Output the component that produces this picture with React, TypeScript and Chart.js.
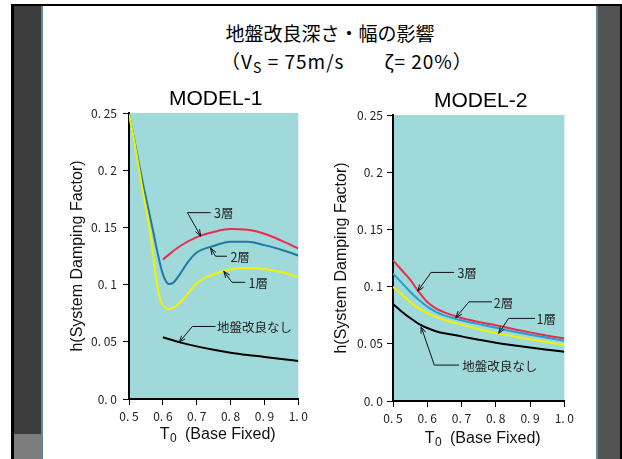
import React, { useEffect, useRef } from 'react';
import { Chart, registerables } from 'chart.js';

Chart.register(...registerables);

// ---------- axis ticks ----------
const TICK_X = [0.5, 0.6, 0.7, 0.8, 0.9, 1.0];
const TICK_X_LABELS = ['0. 5', '0. 6', '0. 7', '0. 8', '0. 9', '1. 0'];
const TICK_Y = [0, 0.05, 0.1, 0.15, 0.2, 0.25];
const TICK_Y_LABELS = ['0. 0', '0. 05', '0. 1', '0. 15', '0. 2', '0. 25'];

// ---------- MODEL-1 ----------
const M1_BLUE_T = [0.5, 0.52, 0.54, 0.5625, 0.572, 0.585, 0.597, 0.607, 0.618, 0.63, 0.65, 0.675, 0.7, 0.75, 0.8, 0.85, 0.9, 0.95, 1.0];
const M1_BLUE_H = [0.249, 0.22, 0.19, 0.159, 0.1456, 0.127, 0.112, 0.104, 0.1005, 0.1015, 0.109, 0.12, 0.128, 0.1338, 0.1375, 0.1375, 0.1345, 0.1305, 0.1255];
const M1_YELLOW_T = [0.5, 0.52, 0.54, 0.5625, 0.581, 0.592, 0.605, 0.615, 0.625, 0.64, 0.66, 0.68, 0.7, 0.725, 0.75, 0.8, 0.85, 0.9, 0.95, 1.0];
const M1_YELLOW_H = [0.249, 0.218, 0.183, 0.1456, 0.104, 0.087, 0.0805, 0.0785, 0.079, 0.0815, 0.087, 0.0945, 0.101, 0.106, 0.109, 0.1135, 0.1145, 0.1135, 0.111, 0.1065];
const M1_RED_T = [0.6, 0.65, 0.7, 0.75, 0.8, 0.85, 0.9, 0.95, 1.0];
const M1_RED_H = [0.122, 0.1335, 0.1415, 0.146, 0.1485, 0.148, 0.1445, 0.1385, 0.1316];
const M1_BLACK_T = [0.6, 0.65, 0.7, 0.75, 0.8, 0.85, 0.9, 0.95, 1.0];
const M1_BLACK_H = [0.054, 0.0495, 0.046, 0.043, 0.0405, 0.0385, 0.0368, 0.035, 0.0333];

// ---------- MODEL-2 ----------
const M2_T = [0.5, 0.525, 0.55, 0.575, 0.6, 0.625, 0.65, 0.7, 0.75, 0.8, 0.85, 0.9, 0.95, 1.0];
const M2_RED_H = [0.123, 0.1145, 0.106, 0.0955, 0.0865, 0.081, 0.0775, 0.0725, 0.069, 0.0663, 0.063, 0.06, 0.057, 0.0548];
const M2_BLUE_H = [0.1115, 0.1035, 0.0955, 0.0885, 0.0825, 0.078, 0.0748, 0.0705, 0.0672, 0.064, 0.0608, 0.058, 0.0553, 0.0527];
const M2_YELLOW_H = [0.0998, 0.093, 0.0865, 0.081, 0.0768, 0.0735, 0.0708, 0.0668, 0.0628, 0.0595, 0.0567, 0.054, 0.0515, 0.049];
const M2_BLACK_H = [0.0847, 0.0782, 0.0725, 0.0675, 0.0638, 0.061, 0.0592, 0.0565, 0.0535, 0.051, 0.0488, 0.0468, 0.0449, 0.0431];

// ---------- annotation labels (data coordinates: tip, corner, end; text anchor) ----------
const NOTE_TEXTS = ['3層', '2層', '1層', '地盤改良なし'];
const M1_NOTE_PTS: [number, number][][] = [
  [[0.7117, 0.1424], [0.6725, 0.1629], [0.741, 0.1629]],
  [[0.741, 0.132], [0.7556, 0.1248], [0.7895, 0.1248]],
  [[0.7798, 0.1117], [0.804, 0.102], [0.8433, 0.102]],
  [[0.6482, 0.0495], [0.6871, 0.0634], [0.7556, 0.0634]],
];
const M1_NOTE_AT: [number, number][] = [[0.751, 0.1629], [0.7995, 0.1248], [0.853, 0.102], [0.7602, 0.0634]];
const M2_NOTE_PTS: [number, number][][] = [
  [[0.5723, 0.096], [0.611, 0.1124], [0.6783, 0.1124]],
  [[0.6832, 0.0728], [0.7217, 0.0867], [0.789, 0.0867]],
  [[0.8084, 0.0591], [0.8373, 0.0722], [0.9145, 0.0722]],
  [[0.5821, 0.0649], [0.6205, 0.0314], [0.6928, 0.0314]],
];
const M2_NOTE_AT: [number, number][] = [[0.6879, 0.1124], [0.794, 0.0867], [0.919, 0.0722], [0.7023, 0.0314]];

const CYAN = '#a0d9d9';
const SANS = '"Liberation Sans", Arial, sans-serif';
const JP = '"Noto Sans CJK JP", sans-serif';

const pts = (xs: number[], ys: number[]) => xs.map((x, i) => ({ x, y: ys[i] }));

const line = (data: any, color: string) => ({
  data,
  borderColor: color,
  borderWidth: 2,
  pointRadius: 0,
  fill: false,
  cubicInterpolationMode: 'monotone',
});

type PanelCfg = {
  left: number; top: number; w: number; h: number;
  title: string;
  padTop: number;
  yWidth: number; yTitlePad: number; yTickPad: number;
  xHeight: number; xTitleDy: number; xTickPad: number;
  datasets: any[];
  notePts: [number, number][][];
  noteAt: [number, number][];
};

function buildConfig(c: PanelCfg): any {
  const bgPlugin = {
    id: 'bg',
    beforeDraw(chart: any) {
      const { ctx, chartArea } = chart;
      ctx.save();
      ctx.fillStyle = CYAN;
      ctx.fillRect(chartArea.left, chartArea.top, chartArea.right - chartArea.left, chartArea.bottom - chartArea.top);
      ctx.restore();
    },
  };
  const textPlugin = {
    id: 'texts',
    afterDraw(chart: any) {
      const { ctx, chartArea } = chart;
      const cx = (chartArea.left + chartArea.right) / 2;
      ctx.save();
      ctx.textBaseline = 'middle';
      ctx.textAlign = 'center';
      ctx.fillStyle = '#000';
      ctx.font = '21px ' + SANS;
      ctx.fillText(c.title, cx + 2, chartArea.top - 14);
      // x-axis title with subscript
      const big = '16px ' + SANS;
      const small = '12px ' + SANS;
      ctx.font = big; const wT = ctx.measureText('T').width;
      const rest = '  (Base Fixed)'; const wR = ctx.measureText(rest).width;
      ctx.font = small; const w0 = ctx.measureText('0').width;
      const total = wT + w0 + wR;
      const x0 = cx + 4 - total / 2;
      const y0 = chartArea.bottom + c.xTitleDy;
      ctx.textAlign = 'left';
      ctx.fillStyle = '#111';
      ctx.font = big; ctx.fillText('T', x0, y0);
      ctx.font = small; ctx.fillText('0', x0 + wT + 0.5, y0 + 4);
      ctx.font = big; ctx.fillText(rest, x0 + wT + w0, y0);
      ctx.restore();
    },
  };
  const notePlugin = {
    id: 'notes',
    afterDatasetsDraw(chart: any) {
      const { ctx } = chart;
      const xs = chart.scales.x;
      const ys = chart.scales.y;
      ctx.save();
      ctx.strokeStyle = '#111';
      ctx.lineWidth = 1;
      ctx.fillStyle = '#222';
      ctx.font = '12.5px ' + JP;
      ctx.textBaseline = 'middle';
      ctx.textAlign = 'left';
      c.notePts.forEach((np, i) => {
        const p = np.map(([a, b]) => [xs.getPixelForValue(a), ys.getPixelForValue(b)]);
        ctx.beginPath();
        ctx.moveTo(p[0][0], p[0][1]);
        for (let k = 1; k < p.length; k++) ctx.lineTo(p[k][0], p[k][1]);
        ctx.stroke();
        const ang = Math.atan2(p[0][1] - p[1][1], p[0][0] - p[1][0]);
        const L = 7, w = 0.35;
        ctx.beginPath();
        ctx.moveTo(p[0][0] - L * Math.cos(ang - w), p[0][1] - L * Math.sin(ang - w));
        ctx.lineTo(p[0][0], p[0][1]);
        ctx.lineTo(p[0][0] - L * Math.cos(ang + w), p[0][1] - L * Math.sin(ang + w));
        ctx.stroke();
        ctx.fillText(NOTE_TEXTS[i], xs.getPixelForValue(c.noteAt[i][0]), ys.getPixelForValue(c.noteAt[i][1]) + 1);
      });
      ctx.restore();
    },
  };
  const grid = { drawOnChartArea: false, drawTicks: true, tickLength: 6, color: '#000', lineWidth: 1 };
  const border = { display: true, color: '#000', width: 2 };
  return {
    type: 'line',
    data: { datasets: c.datasets },
    plugins: [bgPlugin, notePlugin, textPlugin],
    options: {
      animation: false,
      responsive: false,
      maintainAspectRatio: false,
      layout: { padding: { left: 0, right: 12, top: c.padTop, bottom: 0 } },
      plugins: {
        legend: { display: false },
        tooltip: { enabled: false },
        title: { display: false },
      },
      scales: {
        x: {
          type: 'linear',
          min: 0.5,
          max: 1.0,
          afterBuildTicks: (s: any) => { s.ticks = TICK_X.map((v) => ({ value: v })); },
          afterFit: (s: any) => { s.height = c.xHeight; },
          ticks: {
            autoSkip: false,
            maxRotation: 0,
            padding: c.xTickPad,
            color: '#222',
            font: { family: JP, size: 12 },
            callback: (_v: any, i: number) => TICK_X_LABELS[i],
          },
          grid,
          border,
          title: { display: false },
        },
        y: {
          type: 'linear',
          min: 0,
          max: 0.25,
          afterBuildTicks: (s: any) => { s.ticks = TICK_Y.map((v) => ({ value: v })); },
          afterFit: (s: any) => { s.width = c.yWidth; },
          ticks: {
            padding: c.yTickPad,
            color: '#222',
            font: { family: JP, size: 12 },
            callback: (_v: any, i: number) => TICK_Y_LABELS[i],
          },
          grid,
          border,
          title: {
            display: true,
            text: 'h(System Damping Factor)',
            color: '#111',
            font: { family: SANS, size: 16, lineHeight: 1.2 },
            padding: { top: c.yTitlePad, bottom: 0 },
          },
        },
      },
    },
  };
}

function Panel({ cfg }: { cfg: PanelCfg }) {
  const ref = useRef<HTMLCanvasElement>(null);
  useEffect(() => {
    const chart = new Chart(ref.current as HTMLCanvasElement, buildConfig(cfg));
    return () => chart.destroy();
  }, []);
  return (
    <canvas
      ref={ref}
      width={cfg.w}
      height={cfg.h}
      style={{ position: 'absolute', left: cfg.left, top: cfg.top, width: cfg.w, height: cfg.h }}
    />
  );
}

const PANEL1: PanelCfg = {
  left: 60, top: 80, w: 252, h: 370,
  title: 'MODEL-1',
  padTop: 33,
  yWidth: 69, yTitlePad: 8.4, yTickPad: 6,
  xHeight: 51, xTitleDy: 36, xTickPad: 4,
  datasets: [
    line(pts(M1_BLACK_T, M1_BLACK_H), '#000000'),
    line(pts(M1_YELLOW_T, M1_YELLOW_H), '#f2f200'),
    line(pts(M1_BLUE_T, M1_BLUE_H), '#1f7aa6'),
    line(pts(M1_RED_T, M1_RED_H), '#ec2a4c'),
  ],
  notePts: M1_NOTE_PTS,
  noteAt: M1_NOTE_AT,
};

const PANEL2: PanelCfg = {
  left: 320, top: 82, w: 258, h: 370,
  title: 'MODEL-2',
  padTop: 33,
  yWidth: 73, yTitlePad: 12.4, yTickPad: 4,
  xHeight: 51, xTitleDy: 38, xTickPad: 4,
  datasets: [
    line(pts(M2_T, M2_BLACK_H), '#000000'),
    line(pts(M2_T, M2_YELLOW_H), '#f2f200'),
    line(pts(M2_T, M2_BLUE_H), '#22a0d0'),
    line(pts(M2_T, M2_RED_H), '#ec2a4c'),
  ],
  notePts: M2_NOTE_PTS,
  noteAt: M2_NOTE_AT,
};

export default function App() {
  const abs = (s: any) => ({ position: 'absolute', ...s });
  return (
    <div style={{ position: 'fixed', left: 0, top: 0, width: 622, height: 459, background: '#fff', overflow: 'hidden' }}>
      {/* slide frame */}
      <div style={abs({ left: 11, top: 4, width: 611, height: 2, background: '#000' })} />
      <div style={abs({ left: 11, top: 4, width: 3, height: 455, background: '#000' })} />
      <div style={abs({ left: 14, top: 6, width: 27, height: 428, background: '#3b3b3b' })} />
      <div style={abs({ left: 14, top: 434, width: 27, height: 25, background: '#7c7c7c' })} />
      <div style={abs({ left: 41, top: 6, width: 2, height: 453, background: '#5f8896' })} />
      <div style={abs({ left: 596, top: 6, width: 2, height: 453, background: '#5f8896' })} />
      <div style={abs({ left: 598, top: 6, width: 22, height: 453, background: '#535353' })} />
      <div style={abs({ left: 620, top: 4, width: 2, height: 455, background: '#000' })} />

      {/* main title */}
      <div style={abs({ left: 330, top: 21, transform: 'translateX(-50%)', whiteSpace: 'nowrap', fontFamily: JP, fontSize: 19, lineHeight: '24px', color: '#000' })}>
        地盤改良深さ・幅の影響
      </div>
      <div style={abs({ left: 347, top: 49, transform: 'translateX(-50%)', whiteSpace: 'nowrap', fontFamily: JP, fontSize: 19, lineHeight: '24px', letterSpacing: 1, color: '#000' })}>
        （V<span style={{ fontSize: 14, position: 'relative', top: 4 }}>S</span> = 75m/s　　ζ= 20%）
      </div>

      <Panel cfg={PANEL1} />
      <Panel cfg={PANEL2} />
    </div>
  );
}
